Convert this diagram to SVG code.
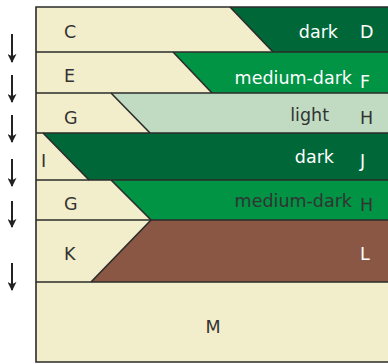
<svg xmlns="http://www.w3.org/2000/svg" width="388" height="364" viewBox="0 0 388 364">
<defs>
<marker id="ah" viewBox="0 0 10 10" refX="9" refY="5" markerWidth="9" markerHeight="9" markerUnits="userSpaceOnUse" orient="auto">
<path d="M0,0 L10,5 L0,10 L2.5,5 Z" fill="#222"/>
</marker>
</defs>
<style>
.cream{fill:#f2edca}
.dk{fill:#006838}
.md{fill:#009444}
.lt{fill:#c0dbc2}
.br{fill:#8b5745}
.ln{stroke:#2b2b2b;stroke-width:1.6;fill:none}
text{font-family:"DejaVu Sans","Liberation Sans",sans-serif;font-size:17.5px}
.t{fill:#333}
.w{fill:#fff}
.arr{stroke:#222;stroke-width:2;fill:none;marker-end:url(#ah)}
</style>
<rect class="cream" x="36" y="7" width="352" height="355"/>
<g id="band1">
<polygon class="dk" points="230,7 388,7 388,52 273,52"/>
<line class="ln" x1="230" y1="7" x2="273" y2="52"/>
<text class="t" x="64" y="38">C</text>
<text class="w" x="338" y="38" text-anchor="end">dark</text>
<text class="w" x="360" y="38">D</text>
</g>
<g id="band2">
<polygon class="md" points="173,52 388,52 388,93 212,93"/>
<line class="ln" x1="173" y1="52" x2="212" y2="93"/>
<text class="t" x="64" y="82">E</text>
<text class="w" x="352" y="84" text-anchor="end">medium-dark</text>
<text class="w" x="360" y="88">F</text>
</g>
<g id="band3">
<polygon class="lt" points="111,93 388,93 388,133 150,133"/>
<line class="ln" x1="111" y1="93" x2="150" y2="133"/>
<text class="t" x="64" y="124">G</text>
<text class="t" x="329" y="121" text-anchor="end">light</text>
<text class="t" x="360" y="124">H</text>
</g>
<g id="band4">
<polygon class="dk" points="43,133 388,133 388,180 89,180"/>
<line class="ln" x1="43" y1="133" x2="89" y2="180"/>
<text class="t" x="41" y="167">I</text>
<text class="w" x="334" y="163" text-anchor="end">dark</text>
<text class="w" x="360" y="167">J</text>
</g>
<g id="band5">
<polygon class="md" points="111,180 388,180 388,220 151,220"/>
<line class="ln" x1="111" y1="180" x2="151" y2="220"/>
<text class="t" x="64" y="210">G</text>
<text class="t" x="352" y="207" text-anchor="end">medium-dark</text>
<text class="t" x="360" y="211">H</text>
</g>
<g id="band6">
<polygon class="br" points="151,220 388,220 388,282 91,282"/>
<line class="ln" x1="151" y1="220" x2="91" y2="282"/>
<text class="t" x="64" y="260">K</text>
<text class="w" x="360" y="260">L</text>
</g>
<g id="band7">
<text class="t" x="213" y="333" text-anchor="middle">M</text>
</g>
<g id="frame">
<path class="ln" d="M388,7 H36 V362 H388"/>
<line class="ln" x1="36" y1="52" x2="388" y2="52"/>
<line class="ln" x1="36" y1="93" x2="388" y2="93"/>
<line class="ln" x1="36" y1="133" x2="388" y2="133"/>
<line class="ln" x1="36" y1="180" x2="388" y2="180"/>
<line class="ln" x1="36" y1="220" x2="388" y2="220"/>
<line class="ln" x1="36" y1="282" x2="388" y2="282"/>
</g>
<g id="connectors">
<line class="arr" x1="12" y1="34" x2="12" y2="62"/>
<line class="arr" x1="12" y1="75" x2="12" y2="102"/>
<line class="arr" x1="12" y1="115" x2="12" y2="142"/>
<line class="arr" x1="12" y1="159" x2="12" y2="186"/>
<line class="arr" x1="12" y1="201" x2="12" y2="227"/>
<line class="arr" x1="12" y1="263" x2="12" y2="290"/>
</g>
</svg>
